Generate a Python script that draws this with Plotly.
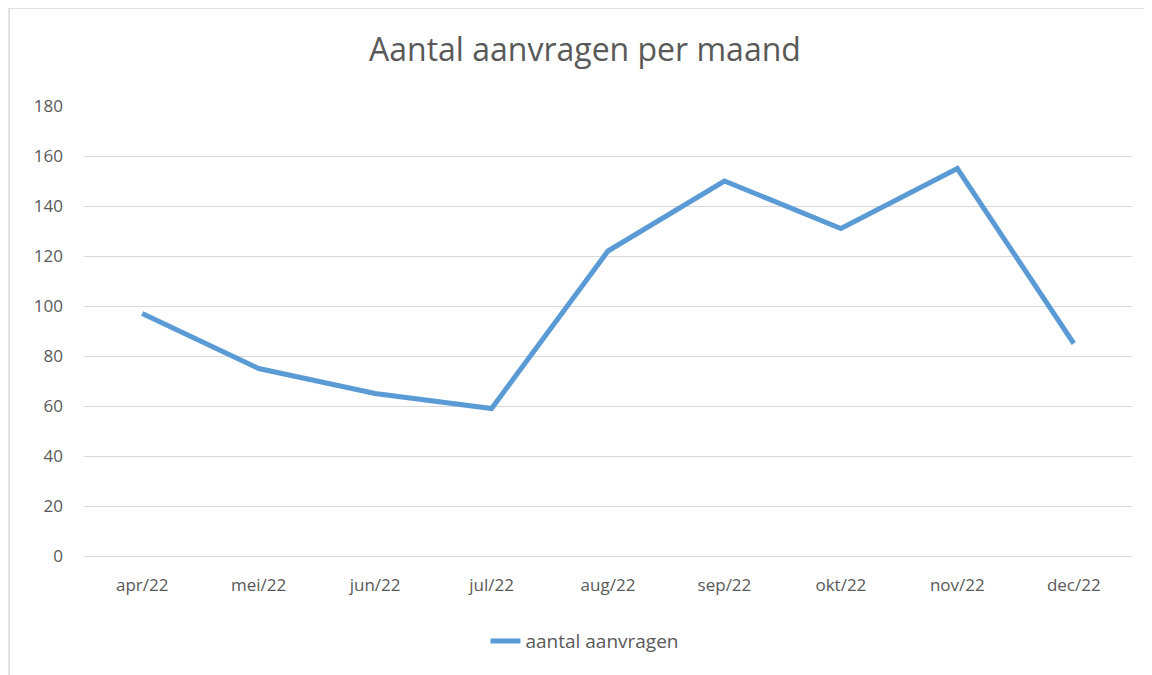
import plotly.graph_objects as go

maanden = ["apr/22", "mei/22", "jun/22", "jul/22", "aug/22", "sep/22", "okt/22", "nov/22", "dec/22"]
aanvragen = [97, 75, 65, 59, 122, 150, 131, 155, 85]
y_ticks = [0, 20, 40, 60, 80, 100, 120, 140, 160, 180]

tekst = "#595959"
font_naam = "Open Sans"

fig = go.Figure()

fig.add_trace(go.Scatter(
    x=maanden, y=aanvragen, name="aantal aanvragen",
    mode="lines", line=dict(color="#5B9BD5", width=5),
))

# rand om het hele diagram, zoals in Excel
fig.add_shape(type="rect", xref="paper", yref="paper",
              x0=-0.0715, x1=1.05, y0=-0.27, y1=1.218,
              line=dict(color="#D9D9D9", width=1.5), layer="below")

# de pagina heeft 8px body-marge, dus figuur iets kleiner
fig.update_layout(
    width=1144, height=667,
    margin=dict(l=76, r=20, t=98, b=119),
    paper_bgcolor="white", plot_bgcolor="white",
    font=dict(family=font_naam, color=tekst, size=17),
    title=dict(text="Aantal aanvragen per maand", x=0.478, xref="paper",
               xanchor="center", y=0.937, yanchor="middle",
               font=dict(size=32, color=tekst)),
    showlegend=True,
    legend=dict(orientation="h", x=0.478, xanchor="center", xref="paper",
                y=-0.189, yanchor="middle", font=dict(size=19, color=tekst)),
)

fig.update_xaxes(range=[-0.5, 8.5], showgrid=False, showline=True,
                 linecolor="#D9D9D9", linewidth=1, ticks="", ticklabelstandoff=14)
fig.update_yaxes(range=[0, 180], tickvals=y_ticks, showgrid=True, gridcolor="#D9D9D9",
                 gridwidth=1, zeroline=False, showline=False, ticks="",
                 ticklabelstandoff=20)

fig.write_html("out.html")
